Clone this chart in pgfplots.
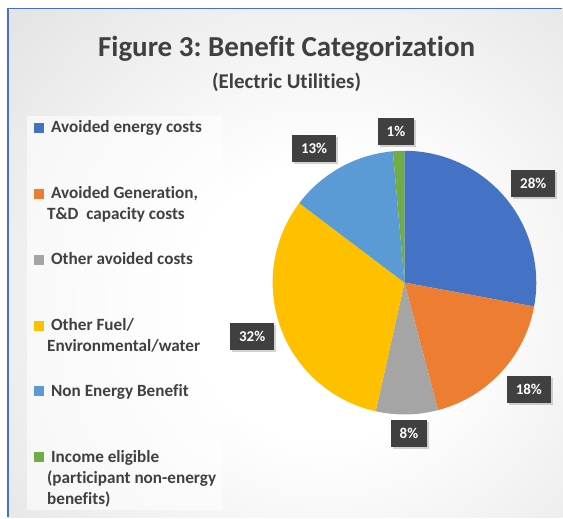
\documentclass[border=0pt]{standalone}
\usepackage{pgfplots}
\pgfplotsset{compat=1.18}
\usepackage{pgfplotstable}
\usepackage{fontspec}
\setmainfont{Carlito}[Ligatures={NoCommon}]
\usetikzlibrary{shadows}
\frenchspacing

\definecolor{slice0}{HTML}{4472C4}
\definecolor{slice1}{HTML}{ED7D31}
\definecolor{slice2}{HTML}{A5A5A5}
\definecolor{slice3}{HTML}{FFC000}
\definecolor{slice4}{HTML}{5B9BD5}
\definecolor{slice5}{HTML}{70AD47}
\definecolor{txt}{HTML}{404040}
\definecolor{frameblue}{HTML}{4472C4}

\pgfdeclareradialshading{chartbg}{\pgfpoint{0bp}{0bp}}{%
  color(0bp)=(white); color(8bp)=(white); color(38bp)=(black!19); color(50bp)=(black!23)}

\tikzset{
  lbl/.style={fill=txt, text=white, inner xsep=9bp, minimum height=27bp,
    font=\fontsize{15bp}{15bp}\selectfont\bfseries,
    drop shadow={shadow xshift=2bp, shadow yshift=-2bp, opacity=0.35}},
  leg/.style={anchor=base west, inner sep=0pt, text=txt,
    font=\fontsize{17.2bp}{18bp}\selectfont\bfseries},
}

% share of each category (percent), shown label, label box centre (px from bottom-left)
\pgfplotstableread{
share pct lx    ly
27.9  28  534   334
18.0  18  529.5 128
7.6   8   409.5 84
31.8  32  252.5 181.5
13.3  13  314.5 369
1.4   1   396.5 386.5
}\pietable

\begin{document}
\begin{tikzpicture}
\begin{axis}[
    x=1bp, y=1bp,
    xmin=0, xmax=563, ymin=0, ymax=518,
    scale only axis,
    hide axis,
    clip=false,
  ]
  % background
  \fill[white] (axis cs:0,0) rectangle (axis cs:563,518);
  \begin{scope}
    \clip (axis cs:8,0) rectangle (axis cs:563,509.5);
    \shade[shading=chartbg] (axis cs:325,215) circle (430bp);
  \end{scope}
  \draw[frameblue, line width=1.5bp] (axis cs:8,0) -- (axis cs:8,509.5) -- (axis cs:563,509.5);

  % titles
  \node[anchor=base, text=txt, inner sep=0pt, font=\fontsize{29bp}{30bp}\selectfont\bfseries]
    at (axis cs:287,461.3) {Figure 3: Benefit Categorization};
  \node[anchor=base, text=txt, inner sep=0pt, font=\fontsize{21bp}{22bp}\selectfont\bfseries]
    at (axis cs:287,429.7) {(Electric Utilities)};

  % legend
  \fill[white, opacity=0.6] (axis cs:27,7.3) rectangle (axis cs:222,402);
  \fill[slice0] (axis cs:34,385) rectangle (axis cs:44,395);
  \node[leg] at (axis cs:51,385) {Avoided energy costs};
  \fill[slice1] (axis cs:34,319) rectangle (axis cs:44,329);
  \node[leg] at (axis cs:51,319) {Avoided Generation,};
  \node[leg] at (axis cs:47,298) {T\&D\ \ capacity costs};
  \fill[slice2] (axis cs:34,253) rectangle (axis cs:44,263);
  \node[leg] at (axis cs:51,253) {Other avoided costs};
  \fill[slice3] (axis cs:34,187) rectangle (axis cs:44,197);
  \node[leg] at (axis cs:51,187) {Other Fuel/};
  \node[leg] at (axis cs:47,166) {Environmental/water};
  \fill[slice4] (axis cs:34,121) rectangle (axis cs:44,131);
  \node[leg] at (axis cs:51,121) {Non Energy Benefit};
  \fill[slice5] (axis cs:34,55) rectangle (axis cs:44,65);
  \node[leg] at (axis cs:51,55) {Income eligible};
  \node[leg] at (axis cs:47,34) {(participant non-energy};
  \node[leg] at (axis cs:47,13) {benefits)};

  % pie slices, clockwise from 12 o'clock
  \def\acc{0}
  \pgfplotsforeachungrouped \i in {0,...,5}{%
    \pgfplotstablegetelem{\i}{share}\of\pietable \let\s=\pgfplotsretval
    \pgfplotstablegetelem{\i}{pct}\of\pietable \let\p=\pgfplotsretval
    \pgfplotstablegetelem{\i}{lx}\of\pietable \let\lx=\pgfplotsretval
    \pgfplotstablegetelem{\i}{ly}\of\pietable \let\ly=\pgfplotsretval
    \pgfmathsetmacro\a{90-3.6*\acc}
    \pgfmathsetmacro\b{90-3.6*(\acc+\s)}
    \edef\doslice{%
      \noexpand\fill[slice\i] (axis cs:405,235) -- ++(\a:132bp)
        arc[start angle=\a, end angle=\b, radius=132bp] -- cycle;
      \noexpand\node[lbl] at (axis cs:\lx,\ly) {\p\noexpand\%};}
    \doslice
    \pgfmathsetmacro\acc{\acc+\s}
  }
\end{axis}
\end{tikzpicture}
\end{document}
